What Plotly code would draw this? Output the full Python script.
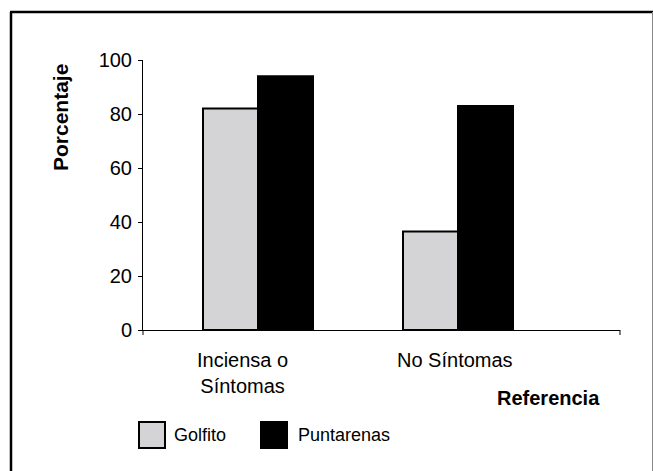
import plotly.graph_objects as go

categories = ["Inciensa o<br>Síntomas", "No Síntomas"]
series_names = ["Golfito", "Puntarenas"]
golfito = [82, 36.5]
puntarenas = [94, 83]
y_ticks = [0, 20, 40, 60, 80, 100]

FONT = "Liberation Sans, Arial, sans-serif"
W, H = 653, 471
L, R, T, B = 143, 33, 60, 141
pw, ph = W - L - R, H - T - B

def px(x):
    return (x - L) / pw

def py(y):
    return (H - B - y) / ph

xpos = list(range(len(categories)))
colors = ["#D4D4D6", "#000000"]

fig = go.Figure()
for name, vals, col in zip(series_names, [golfito, puntarenas], colors):
    fig.add_trace(go.Bar(
        x=xpos, y=vals, name=name,
        marker=dict(color=col, line=dict(color="#000000", width=2)),
        showlegend=False,
    ))

fig.update_layout(
    width=W, height=H,
    margin=dict(l=L, r=R, t=T, b=B, pad=0),
    paper_bgcolor="white", plot_bgcolor="white",
    barmode="group", bargap=0.45, bargroupgap=0,
    font=dict(family=FONT, size=20, color="#000000"),
    xaxis=dict(
        range=[-0.575, 1.81], tickvals=xpos, showticklabels=False,
        showgrid=False, zeroline=False, showline=True, linecolor="#000000", linewidth=1,
        ticks="",
    ),
    yaxis=dict(
        range=[0, 100], tickvals=y_ticks, showgrid=False, zeroline=False,
        showline=True, linecolor="#000000", linewidth=1,
        ticks="outside", ticklen=4, tickcolor="#000000", tickfont=dict(size=20),
        ticklabelstandoff=2,
    ),
)

shapes = [
    # x-axis end ticks
    dict(type="line", xref="paper", yref="paper", x0=0, x1=0, y0=0, y1=py(H - B + 5),
         line=dict(color="#000000", width=1)),
    dict(type="line", xref="paper", yref="paper", x0=1, x1=1, y0=0, y1=py(H - B + 5),
         line=dict(color="#000000", width=1)),
    # outer frame
    dict(type="line", xref="paper", yref="paper", x0=px(10), x1=px(653), y0=py(12), y1=py(12),
         line=dict(color="#000000", width=2.5)),
    dict(type="line", xref="paper", yref="paper", x0=px(11), x1=px(11), y0=py(12), y1=py(475),
         line=dict(color="#000000", width=2.5)),
    dict(type="line", xref="paper", yref="paper", x0=px(652.5), x1=px(652.5), y0=py(12), y1=py(475),
         line=dict(color="#888888", width=1)),
]

# manual legend
leg = [(138, 172), (260, 296)]
for (sx, tx), name, col in zip(leg, series_names, colors):
    shapes.append(dict(type="rect", xref="paper", yref="paper",
                       x0=px(sx + 1), x1=px(sx + 27), y0=py(448), y1=py(422),
                       fillcolor=col, line=dict(color="#000000", width=2)))

annotations = [
    dict(text="<b>Porcentaje</b>", xref="paper", yref="paper", x=px(60), y=py(118),
         textangle=-90, showarrow=False, xanchor="center", yanchor="middle",
         font=dict(size=21)),
    dict(text="<b>Referencia</b>", xref="paper", yref="paper", x=px(602), y=py(398),
         showarrow=False, xanchor="right", yanchor="middle", font=dict(size=20)),
]
# category labels (Excel-style placement, slightly left of group centre)
label_shift = [-16, -3]
for xv, txt, sh in zip(xpos, categories, label_shift):
    annotations.append(dict(text=txt, xref="x", yref="paper", x=xv, y=py(347),
                            xshift=sh, showarrow=False, xanchor="center", yanchor="top",
                            font=dict(size=20)))
for (sx, tx), name in zip(leg, series_names):
    annotations.append(dict(text=name, xref="paper", yref="paper", x=px(tx), y=py(435),
                            showarrow=False, xanchor="left", yanchor="middle",
                            font=dict(size=18)))

fig.update_layout(shapes=shapes, annotations=annotations)
fig.write_html("out.html", config={"displayModeBar": False},
               post_script="document.body.style.margin='0';document.body.style.padding='0';")
